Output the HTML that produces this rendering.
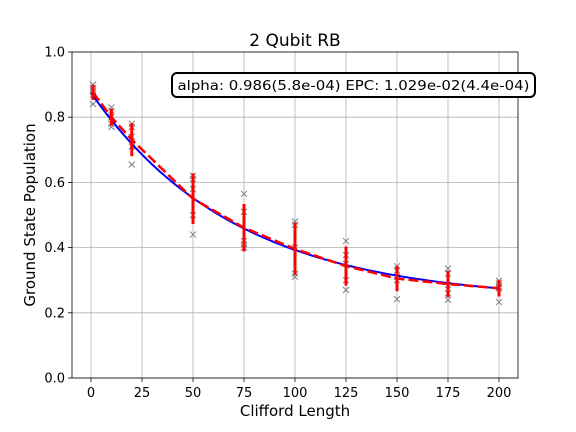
<!DOCTYPE html>
<html><head><meta charset="utf-8"><style>
body{margin:0;background:#fff;}
svg{display:block;font-family:"DejaVu Sans","Liberation Sans",sans-serif;}
</style></head><body>
<svg id="chart" width="576" height="432"></svg>
<script>
const xs=[1,10,20,50,75,100,125,150,175,200];
const samples=[
[0.90,0.89,0.88,0.87,0.84],
[0.83,0.82,0.80,0.78,0.77],
[0.78,0.77,0.74,0.71,0.655],
[0.62,0.61,0.58,0.50,0.44],
[0.565,0.51,0.42,0.41,0.40],
[0.48,0.47,0.40,0.32,0.31],
[0.42,0.377,0.35,0.30,0.27],
[0.343,0.33,0.31,0.30,0.242],
[0.336,0.32,0.285,0.26,0.24],
[0.298,0.29,0.28,0.275,0.233]];
const fitA=0.638, fitAlpha=0.986, fitB=0.237;
const xTicks=[0,25,50,75,100,125,150,175,200];
const yTicks=[0.0,0.2,0.4,0.6,0.8,1.0];
const L=72,R=518,T=52,B=378;
const sx=v=>91+v*(499-91)/200;
const sy=v=>B-v*(B-T);
const svg=document.getElementById('chart');
const NS='http://www.w3.org/2000/svg';
function mk(tag,attrs,parent){const e=document.createElementNS(NS,tag);for(const k in attrs)e.setAttribute(k,attrs[k]);(parent||svg).appendChild(e);return e;}
xTicks.forEach(t=>{const g=mk('line',{x1:sx(t),x2:sx(t),y1:T,y2:B,stroke:'#b0b0b0','stroke-width':0.8});

const tk=mk('line',{x1:sx(t),x2:sx(t),y1:B,y2:B+4,stroke:'#000','stroke-width':0.8});

const tx=mk('text',{x:sx(t),y:B+19,'text-anchor':'middle','font-size':13});tx.textContent=t;
});
yTicks.forEach(t=>{const g=mk('line',{x1:L,x2:R,y1:sy(t),y2:sy(t),stroke:'#b0b0b0','stroke-width':0.8});

const tk=mk('line',{x1:L-4,x2:L,y1:sy(t),y2:sy(t),stroke:'#000','stroke-width':0.8});

const tx=mk('text',{x:L-7,y:sy(t)+4.5,'text-anchor':'end','font-size':13});tx.textContent=t.toFixed(1);
});
samples.forEach((arr,i)=>arr.forEach(v=>{const x=sx(xs[i]),y=sy(v);
const p=mk('path',{d:`M${x-3},${y-3}L${x+3},${y+3}M${x-3},${y+3}L${x+3},${y-3}`,stroke:'#808080','stroke-width':1});
}));
let d='';for(let v=0;v<=200;v+=2){const y=fitA*Math.pow(fitAlpha,v)+fitB;d+=(v?'L':'M')+sx(v)+','+sy(y);}
const fit=mk('path',{d:d,fill:'none',stroke:'#0000ff','stroke-width':2});

const means=samples.map(a=>a.reduce((s,v)=>s+v,0)/a.length);
const stds=samples.map((a,i)=>Math.sqrt(a.reduce((s,v)=>s+(v-means[i])**2,0)/(a.length-1)));
xs.forEach((x,i)=>{const e=mk('line',{x1:sx(x),x2:sx(x),y1:sy(means[i]-stds[i]),y2:sy(means[i]+stds[i]),stroke:'#ff0000','stroke-width':3});
});
const md=xs.map((x,i)=>(i?'L':'M')+sx(x)+','+sy(means[i])).join('');
const ml=mk('path',{d:md,fill:'none',stroke:'#ff0000','stroke-width':2.5,'stroke-dasharray':'10,4'});

const fr=mk('rect',{x:L,y:T,width:R-L,height:B-T,fill:'none',stroke:'#000','stroke-width':0.8});

const title=mk('text',{x:295,y:46,'text-anchor':'middle','font-size':17});title.textContent='2 Qubit RB';

const xl=mk('text',{x:295,y:416,'text-anchor':'middle','font-size':15});xl.textContent='Clifford Length';

const yl=mk('text',{x:0,y:0,'text-anchor':'middle','font-size':15,transform:'translate(35,215) rotate(-90)'});yl.textContent='Ground State Population';

const box=mk('rect',{x:172,y:73,width:363,height:24,rx:5,fill:'#fff',stroke:'#000','stroke-width':2});

const bt=mk('text',{x:353.5,y:90,'text-anchor':'middle','font-size':13,textLength:352,lengthAdjust:'spacingAndGlyphs'});bt.textContent='alpha: 0.986(5.8e-04) EPC: 1.029e-02(4.4e-04)';

</script>
</body></html>
